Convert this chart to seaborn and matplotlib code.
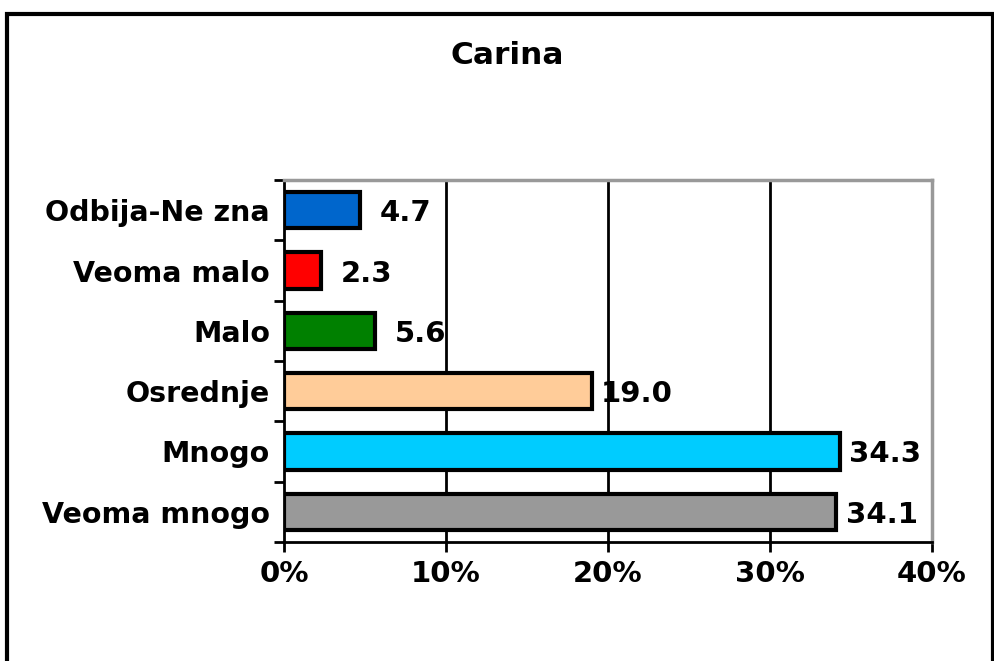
import matplotlib
matplotlib.use("Agg")
import matplotlib.pyplot as plt
import seaborn as sns
import pandas as pd
from matplotlib.patches import Rectangle

categories = ["Odbija-Ne zna", "Veoma malo", "Malo", "Osrednje", "Mnogo", "Veoma mnogo"]
values = [4.7, 2.3, 5.6, 19.0, 34.3, 34.1]
colors = ["#0066CC", "#FF0000", "#008000", "#FFCC99", "#00CCFF", "#999999"]
xticks = [0, 10, 20, 30, 40]
xticklabels = ["0%", "10%", "20%", "30%", "40%"]
title = "Carina"

sns.set_theme(style="white")
plt.rcParams['font.family'] = ['DejaVu Sans']
plt.rcParams['text.color'] = 'black'
plt.rcParams['xtick.color'] = 'black'
plt.rcParams['ytick.color'] = 'black'

df = pd.DataFrame({"cat": categories, "val": values})

fig = plt.figure(figsize=(9.95, 6.61), dpi=100)
ax = fig.add_axes([284/995, 1-542/661, (932-284)/995, (542-180)/661])

sns.barplot(data=df, x="val", y="cat", hue="cat", palette=colors, legend=False,
            orient="h", width=0.6, saturation=1, edgecolor="black", linewidth=3,
            ax=ax, zorder=3)

ax.set_xlim(0, 40)
ax.set_ylim(5.5, -0.5)
ax.set_xticks(xticks)
ax.set_xticklabels(xticklabels, fontsize=21, fontweight="bold", color="black")
ax.set_yticks(range(len(categories)))
ax.set_yticklabels(categories, fontsize=20.5, fontweight="bold", color="black")
ax.set_xlabel("")
ax.set_ylabel("")

for x in xticks[1:-1]:
    ax.axvline(x, color="black", lw=2, zorder=1)

for s in ["top", "right"]:
    ax.spines[s].set_color("#999999")
    ax.spines[s].set_linewidth(2.5)
for s in ["left", "bottom"]:
    ax.spines[s].set_color("black")
    ax.spines[s].set_linewidth(2)

ax.tick_params(axis="x", direction="out", length=7, width=2, color="black", pad=6, bottom=True)
ax.tick_params(axis="y", length=0, pad=10)
ax.set_yticks([i + 0.5 for i in range(-1, len(categories))], minor=True)
ax.tick_params(axis="y", which="minor", direction="out", length=7, width=2, color="black", left=True)

for i, v in enumerate(values):
    ax.text(v + 2.8, i, f"{v:.1f}", va="center_baseline", ha="center", fontsize=21,
            fontweight="bold", color="black", zorder=4)

fig.text(0.51, 1-55/661, title, ha="center", va="center", fontsize=22.5,
         fontweight="bold", color="black")

fig.patches.append(Rectangle((7/995, -0.1), (993-7)/995, 1.1 - 14/661, transform=fig.transFigure,
                             fill=False, edgecolor="black", linewidth=3))

fig.savefig("out.png", dpi=100, facecolor="white")
